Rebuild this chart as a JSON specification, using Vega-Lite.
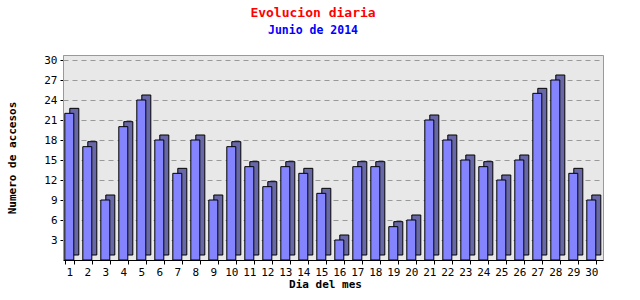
{
  "$schema": "https://vega.github.io/schema/vega-lite/v6.json",
  "autosize": {"type": "none"},
  "width": 540,
  "height": 205,
  "padding": {"left": 63, "top": 55, "right": 37, "bottom": 40},
  "background": "white",
  "config": {
    "view": {"fill": "#e8e8e8", "stroke": "#999999", "strokeWidth": 1},
    "font": "DejaVu Sans Mono"
  },
  "title": {
    "text": "Evolucion diaria",
    "subtitle": "Junio de 2014",
    "color": "#ff0000",
    "subtitleColor": "#0000ff",
    "font": "DejaVu Sans Mono",
    "subtitleFont": "DejaVu Sans Mono",
    "fontSize": 13,
    "subtitleFontSize": 11.5,
    "fontWeight": "bold",
    "subtitleFontWeight": "bold",
    "anchor": "middle",
    "dx": -20,
    "offset": 18,
    "subtitlePadding": 5
  },
  "data": {"values": [
    {"dia": 1, "accesos": 22}, {"dia": 2, "accesos": 17}, {"dia": 3, "accesos": 9},
    {"dia": 4, "accesos": 20}, {"dia": 5, "accesos": 24}, {"dia": 6, "accesos": 18},
    {"dia": 7, "accesos": 13}, {"dia": 8, "accesos": 18}, {"dia": 9, "accesos": 9},
    {"dia": 10, "accesos": 17}, {"dia": 11, "accesos": 14}, {"dia": 12, "accesos": 11},
    {"dia": 13, "accesos": 14}, {"dia": 14, "accesos": 13}, {"dia": 15, "accesos": 10},
    {"dia": 16, "accesos": 3}, {"dia": 17, "accesos": 14}, {"dia": 18, "accesos": 14},
    {"dia": 19, "accesos": 5}, {"dia": 20, "accesos": 6}, {"dia": 21, "accesos": 21},
    {"dia": 22, "accesos": 18}, {"dia": 23, "accesos": 15}, {"dia": 24, "accesos": 14},
    {"dia": 25, "accesos": 12}, {"dia": 26, "accesos": 15}, {"dia": 27, "accesos": 25},
    {"dia": 28, "accesos": 27}, {"dia": 29, "accesos": 13}, {"dia": 30, "accesos": 9}
  ]},
  "encoding": {
    "x": {
      "field": "dia", "type": "ordinal", "title": "Dia del mes",
      "scale": {"paddingInner": 0.5, "paddingOuter": 0.25, "align": 0.2},
      "axis": {
        "labelAngle": 0, "labelFont": "DejaVu Sans Mono", "labelFontSize": 11, "labelColor": "#000000",
        "labelPadding": 2, "tickSize": 4, "tickColor": "#000000", "tickBand": "extent",
        "domainColor": "#000000", "titleFont": "DejaVu Sans Mono", "titleFontSize": 11,
        "titleFontWeight": "bold", "titleColor": "#000000", "titlePadding": 1, "titleX": 262
      }
    },
    "y": {
      "field": "accesos", "type": "quantitative", "title": "Numero de accesos",
      "scale": {"domain": [0, 30.75], "nice": false, "zero": true},
      "axis": {
        "values": [3, 6, 9, 12, 15, 18, 21, 24, 27, 30],
        "labelFont": "DejaVu Sans Mono", "labelFontSize": 11, "labelColor": "#000000",
        "tickSize": 3, "tickColor": "#000000", "labelPadding": 3,
        "domainColor": "#999999",
        "grid": true, "gridDash": [5, 4], "gridColor": "#999999", "gridWidth": 1,
        "titleFont": "DejaVu Sans Mono", "titleFontSize": 11, "titleFontWeight": "bold",
        "titleColor": "#000000", "titlePadding": 26
      }
    }
  },
  "layer": [
    {
      "mark": {"type": "bar", "xOffset": 5, "yOffset": -5, "fill": "#6868a8", "stroke": "#000000", "strokeWidth": 1}
    },
    {
      "mark": {"type": "bar", "fill": "#8484ff", "stroke": "#000000", "strokeWidth": 1}
    }
  ]
}
